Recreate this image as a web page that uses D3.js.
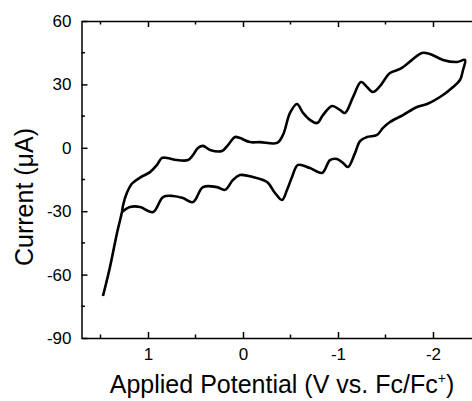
<!DOCTYPE html>
<html>
<head>
<meta charset="utf-8">
<script src="https://cdn.jsdelivr.net/npm/d3@7"></script>
<style>
	body { margin: 0; background: #fff; }
	svg { font-family: "Liberation Sans", Arial, Helvetica, sans-serif; }
	.axis path, .axis line { stroke: #000; stroke-width: 1.5; }
	.title { font-size: 25px; fill: #000; }
</style>
</head>
<body>
<div class="box"></div>
<script>
// forward sweep (V vs Fc/Fc+, current in uA)
var forwardV = [1.474, 1.400, 1.326, 1.274, 1.263, 1.221, 1.168, 1.084, 0.979, 0.905, 0.853, 0.800,
	0.695, 0.579, 0.526, 0.474, 0.421, 0.347, 0.221, 0.158, 0.084, 0.032, -0.074, -0.179, -0.358,
	-0.421, -0.495, -0.568, -0.632, -0.705, -0.779, -0.842, -0.937, -1.021, -1.074, -1.158, -1.242,
	-1.305, -1.368, -1.442, -1.547, -1.653, -1.779, -1.884, -1.968, -2.105, -2.253, -2.337];
var forwardI = [-70.1, -56.4, -40.3, -30.4, -27.3, -21.2, -16.9, -14.1, -11.5, -8.1, -4.8, -4.8,
	-5.8, -5.8, -3.4, -0.1, 0.9, -1.0, -1.5, 1.3, 5.1, 4.6, 2.7, 2.7, 2.3,
	6.1, 16.5, 20.7, 16.5, 13.2, 11.7, 15.5, 19.8, 17.9, 16.5, 24.0, 31.1,
	28.8, 26.4, 29.2, 35.4, 37.3, 41.6, 44.9, 44.4, 41.6, 40.6, 41.6];

// reverse sweep
var reverseV = [-2.316, -2.284, -2.211, -2.105, -1.937, -1.832, -1.684, -1.547, -1.474, -1.411,
	-1.305, -1.232, -1.179, -1.105, -1.053, -0.989, -0.916, -0.832, -0.705, -0.579, -0.516, -0.463,
	-0.411, -0.337, -0.253, -0.105, 0.032, 0.105, 0.189, 0.274, 0.421, 0.526, 0.632, 0.737, 0.842,
	0.947, 1.084, 1.189, 1.274];
var reverseI = [36.8, 32.1, 28.8, 25.0, 20.7, 19.3, 15.5, 12.2, 9.4, 6.1,
	5.1, 3.2, -2.5, -9.1, -7.2, -5.3, -5.8, -11.9, -9.6, -8.1, -13.8, -20.0,
	-24.7, -21.4, -16.2, -13.8, -12.9, -15.2, -19.9, -18.6, -18.6, -25.7, -23.8, -22.8, -23.3,
	-30.4, -28.0, -28.0, -30.4];

var xTicks = [1, 0, -1, -2];
var xMinor = [1.5, 0.5, -0.5, -1.5];
var yTicks = [-90, -60, -30, 0, 30, 60];
var yMinor = [-75, -45, -15, 15, 45];

var width = 472, height = 401;
var padLeft = 81.5, padRight = 475.75, padTop = 21, padBottom = 338;

var svg = d3.select('.box')
	.append('svg')
	.attr('width', width)
	.attr('height', height);

var x = d3.scaleLinear().domain([1.7, -2.45]).range([padLeft, padRight]);
var y = d3.scaleLinear().domain([-90, 60]).range([padBottom, padTop]);

function fmt(d) { return String(d); }

// bottom axis, ticks pointing inwards
var gx = svg.append('g')
	.attr('class', 'axis')
	.attr('transform', 'translate(0,' + padBottom + ')')
	.call(d3.axisBottom(x).tickValues(xTicks).tickSizeInner(-6).tickSizeOuter(0).tickPadding(10).tickFormat(fmt));
gx.selectAll('.minor')
	.data(xMinor)
	.enter()
	.append('line')
		.attr('class', 'minor')
		.attr('x1', function(d) { return x(d); })
		.attr('x2', function(d) { return x(d); })
		.attr('y1', 0)
		.attr('y2', -3.5);

// top axis, no labels
var gt = svg.append('g')
	.attr('class', 'axis')
	.attr('transform', 'translate(0,' + padTop + ')')
	.call(d3.axisTop(x).tickValues(xTicks).tickSizeInner(-6).tickSizeOuter(0).tickFormat(''));
gt.selectAll('.minor')
	.data(xMinor)
	.enter()
	.append('line')
		.attr('class', 'minor')
		.attr('x1', function(d) { return x(d); })
		.attr('x2', function(d) { return x(d); })
		.attr('y1', 0)
		.attr('y2', 3.5);

// left axis
var gy = svg.append('g')
	.attr('class', 'axis')
	.attr('transform', 'translate(' + padLeft + ',0)')
	.call(d3.axisLeft(y).tickValues(yTicks).tickSizeInner(-6).tickSizeOuter(0).tickPadding(10).tickFormat(fmt));
gy.selectAll('.minor')
	.data(yMinor)
	.enter()
	.append('line')
		.attr('class', 'minor')
		.attr('x1', 0)
		.attr('x2', 3.5)
		.attr('y1', function(d) { return y(d); })
		.attr('y2', function(d) { return y(d); });

svg.selectAll('.axis')
	.attr('font-family', null)
	.attr('font-size', null);
svg.selectAll('.axis text')
	.style('font-size', '17px')
	.style('fill', '#000');

// the voltammogram
var scan = forwardV.map(function(v, i) { return [v, forwardI[i]]; })
	.concat(reverseV.map(function(v, i) { return [v, reverseI[i]]; }));

var line = d3.line()
	.x(function(d) { return x(d[0]); })
	.y(function(d) { return y(d[1]); })
	.curve(d3.curveCatmullRom.alpha(0.5));

svg.append('path')
	.datum(scan)
	.attr('d', line)
	.attr('fill', 'none')
	.attr('stroke', '#000')
	.attr('stroke-width', 2.6)
	.attr('stroke-linejoin', 'round');

// axis titles
var xt = svg.append('text')
	.attr('class', 'title')
	.attr('x', 282)
	.attr('y', 393)
	.attr('text-anchor', 'middle');
xt.append('tspan').text('Applied Potential (V vs. Fc/Fc');
xt.append('tspan').attr('dy', -10).attr('font-size', '14px').text('+');
xt.append('tspan').attr('dy', 10).text(')');

svg.append('text')
	.attr('class', 'title')
	.attr('transform', 'translate(33,197) rotate(-90)')
	.attr('text-anchor', 'middle')
	.text('Current (\u03bcA)');
</script>
</body>
</html>
